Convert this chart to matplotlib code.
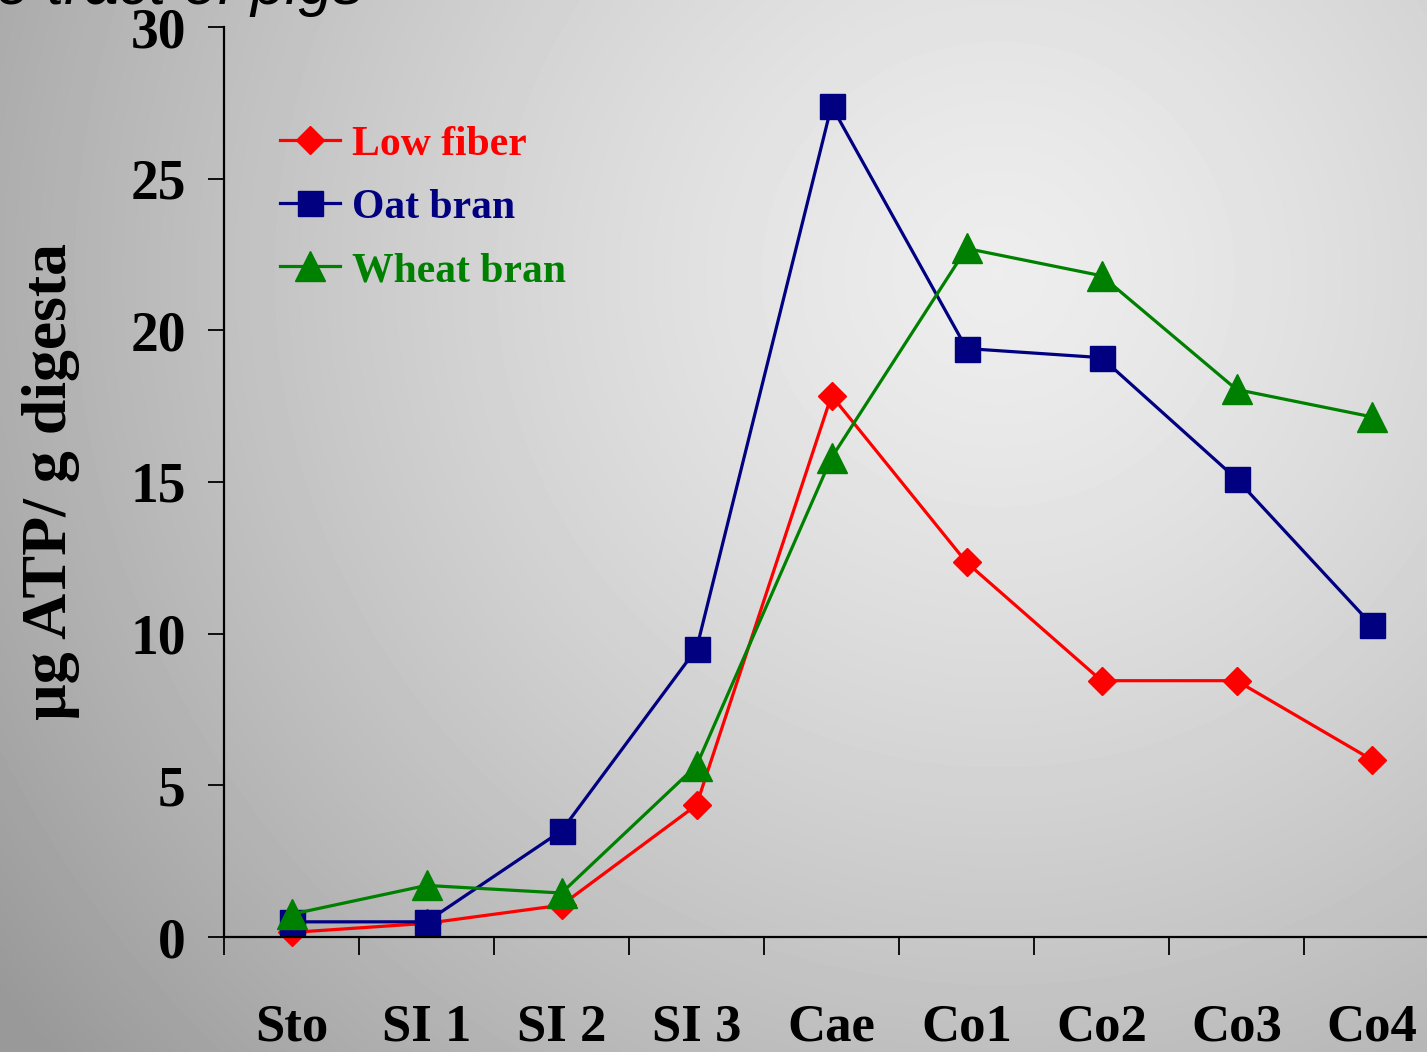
import numpy as np
import matplotlib
matplotlib.use("Agg")
import matplotlib.pyplot as plt

# Segments of the gastrointestinal tract
segments = ["Sto", "SI 1", "SI 2", "SI 3", "Cae", "Co1", "Co2", "Co3", "Co4"]

# ATP concentration (µg ATP / g digesta) per diet
low_fiber = [0.15, 0.45, 1.05, 4.35, 17.85, 12.35, 8.45, 8.45, 5.85]
oat_bran = [0.5, 0.5, 3.5, 9.5, 27.4, 19.4, 19.1, 15.1, 10.3]
wheat_bran = [0.75, 1.7, 1.45, 5.65, 15.8, 22.7, 21.8, 18.05, 17.15]

y_ticks = [0, 5, 10, 15, 20, 25, 30]

W, H = 1427, 1052
fig = plt.figure(figsize=(W / 100, H / 100), dpi=100)

# Soft radial grey background
bg = fig.add_axes([0, 0, 1, 1], zorder=-10)
xx, yy = np.meshgrid(np.linspace(0, 1, 400), np.linspace(1, 0, 300))
d = np.sqrt(((xx - 0.70) * 1.0) ** 2 + ((yy - 0.74) * 0.75) ** 2)
shade = np.clip(0.93 - 0.40 * d ** 1.35, 0.60, 0.93)
bg.imshow(shade, cmap="gray", vmin=0, vmax=1, aspect="auto",
          extent=[0, 1, 0, 1], interpolation="bicubic")
bg.set_axis_off()

serif = "Liberation Serif"

# Title line running off the top edge
fig.text(363 / W, 1 - 4 / H, "in the digestive tract of pigs", ha="right",
         va="baseline", fontsize=44, style="italic",
         family="Liberation Sans", color="black")

ax = fig.add_axes([224 / W, 115 / H, 1215 / W, 910 / H])
ax.patch.set_alpha(0)

x = np.arange(len(segments))
series = [
    ("Low fiber", low_fiber, "#FF0000", "D", 14),
    ("Oat bran", oat_bran, "#000080", "s", 18),
    ("Wheat bran", wheat_bran, "#008000", "^", 21),
]
for label, vals, color, marker, ms in series:
    ax.plot(x, vals, color=color, lw=2.3, marker=marker, ms=ms,
            mec=color, mfc=color, label=label, clip_on=False)

ax.set_xlim(-0.5, len(segments) - 0.5)
ax.set_ylim(0, 30)

for side in ("top", "right"):
    ax.spines[side].set_visible(False)
for side in ("left", "bottom"):
    ax.spines[side].set_linewidth(1.6)

ax.set_yticks(y_ticks)
ax.set_yticklabels([str(v) for v in y_ticks], fontsize=40,
                   fontweight="bold", family=serif)
ax.tick_params(axis="y", direction="out", length=11.5, width=1.3, pad=16)

ax.set_xticks(np.arange(-0.5, len(segments) + 0.5, 1.0))
ax.set_xticklabels([])
ax.tick_params(axis="x", which="major", direction="out", length=13, width=1.3)
ax.set_xticks(x, minor=True)
ax.set_xticklabels(segments, minor=True, fontsize=38, fontweight="bold",
                   family=serif)
ax.tick_params(axis="x", which="minor", length=0, pad=48)

ax.set_ylabel("µg ATP/ g digesta", fontsize=46, fontweight="bold",
              family=serif, labelpad=36)

leg = ax.legend(loc="upper left", bbox_to_anchor=(18 / 1215, 1 - 61 / 910),
                frameon=False, labelcolor="linecolor", handlelength=1.45,
                handletextpad=0.3, labelspacing=0.6,
                prop={"family": serif, "weight": "bold", "size": 30},
                markerscale=1.0)

fig.savefig("out.png", dpi=100)
